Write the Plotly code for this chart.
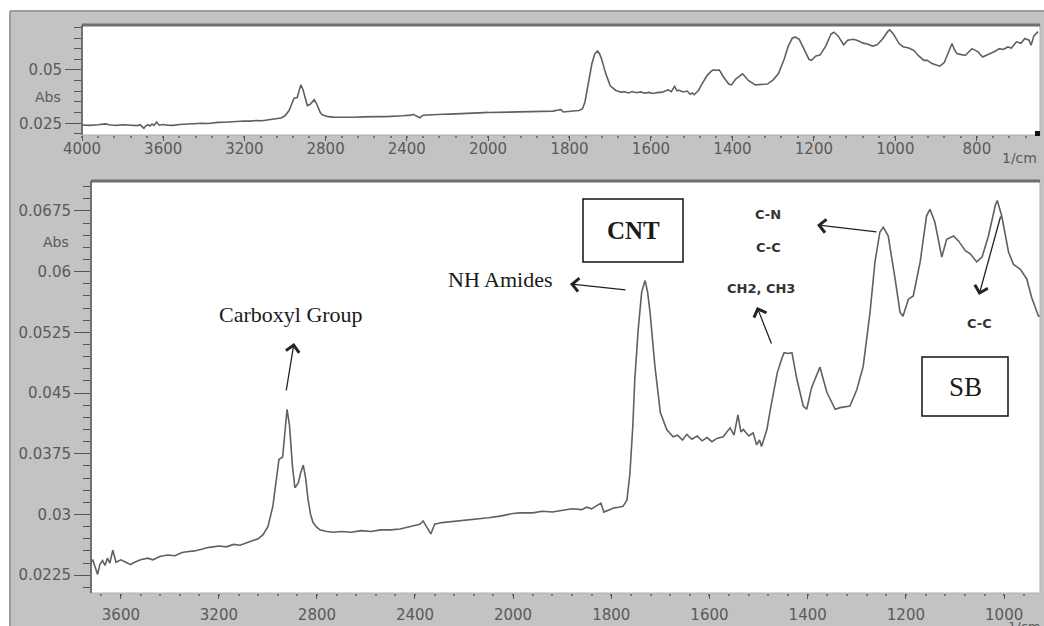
import plotly.graph_objects as go

# ---------------- DATA ----------------
wavenumber = [
    4000, 3960, 3920, 3886, 3860, 3829, 3800, 3770, 3747, 3727, 3715, 3705, 3695, 3686,
    3675, 3665, 3655, 3645, 3633, 3620, 3600, 3580, 3560, 3551, 3520, 3490, 3470, 3441,
    3410, 3380, 3350, 3331, 3300, 3270, 3250, 3224, 3200, 3170, 3140, 3114, 3090, 3061,
    3040, 3020, 3000, 2980, 2965, 2955, 2940, 2930, 2922, 2912, 2900, 2890, 2876, 2866,
    2856, 2846, 2837, 2826, 2816, 2800, 2788, 2760, 2735, 2700, 2660, 2620, 2580, 2540,
    2500, 2461, 2420, 2380, 2367, 2355, 2345, 2335, 2320, 2290, 2257, 2220, 2188, 2150,
    2100, 2053, 2020, 1986, 1960, 1940, 1920, 1900, 1880, 1860, 1850, 1840, 1830, 1821,
    1815, 1805, 1795, 1785, 1776, 1768, 1762, 1756, 1752, 1745, 1738, 1731, 1726, 1721,
    1711, 1700, 1687, 1674, 1665, 1655, 1646, 1636, 1625, 1615, 1605, 1595, 1585, 1572,
    1565, 1558, 1550, 1542, 1536, 1531, 1520, 1511, 1504, 1498, 1494, 1488, 1483, 1476,
    1470, 1462, 1453, 1448, 1440, 1432, 1422, 1409, 1402, 1392, 1375, 1361, 1344, 1334,
    1314, 1300, 1287, 1273, 1263, 1253, 1246, 1236, 1222, 1212, 1206, 1195, 1185, 1171,
    1158, 1151, 1141, 1127, 1117, 1103, 1093, 1079, 1069, 1056, 1045, 1032, 1018, 1014,
    1005, 991, 981, 967, 954, 944, 930, 922, 910, 891, 880, 870, 861, 855,
    849, 838, 828, 812, 797, 786, 776, 766, 755, 745, 735, 724, 715, 703,
    692, 682, 672, 667, 660, 650,
]
absorbance = [
    0.0242, 0.0240, 0.0243, 0.0247, 0.0242, 0.0240, 0.0243, 0.0241, 0.0243, 0.0239, 0.0244, 0.0236, 0.0226, 0.0238,
    0.0243, 0.0237, 0.0246, 0.0240, 0.0256, 0.0241, 0.0244, 0.0241, 0.0238, 0.0240, 0.0244, 0.0246, 0.0244, 0.0248,
    0.0250, 0.0249, 0.0253, 0.0254, 0.0255, 0.0257, 0.0259, 0.0260, 0.0261, 0.0260, 0.0263, 0.0262, 0.0265, 0.0268,
    0.0270, 0.0275, 0.0285, 0.0310, 0.0345, 0.0368, 0.0371, 0.0400, 0.0430, 0.0410, 0.0360, 0.0333, 0.0339, 0.0352,
    0.0361, 0.0345, 0.0320, 0.0300, 0.0290, 0.0284, 0.0281, 0.0279, 0.0278, 0.0279, 0.0278, 0.0280, 0.0279, 0.0281,
    0.0281, 0.0282, 0.0285, 0.0288, 0.0292, 0.0285, 0.0281, 0.0276, 0.0288, 0.0290, 0.0291, 0.0292, 0.0293, 0.0294,
    0.0296, 0.0298, 0.0300, 0.0302, 0.0302, 0.0304, 0.0303, 0.0305, 0.0307, 0.0306, 0.0309, 0.0307, 0.0311, 0.0314,
    0.0303, 0.0306, 0.0308, 0.0309, 0.0310, 0.0318, 0.0350, 0.0410, 0.0467, 0.0529, 0.0575, 0.0589, 0.0575, 0.0550,
    0.0483, 0.0426, 0.0405, 0.0396, 0.0398, 0.0392, 0.0399, 0.0393, 0.0397, 0.0391, 0.0395, 0.0390, 0.0394, 0.0396,
    0.0401, 0.0407, 0.0398, 0.0423, 0.0402, 0.0405, 0.0397, 0.0401, 0.0386, 0.0392, 0.0384, 0.0395, 0.0405, 0.0430,
    0.0451, 0.0475, 0.0492, 0.0500, 0.0499, 0.0500, 0.0467, 0.0434, 0.0430, 0.0457, 0.0482, 0.0451, 0.0430, 0.0432,
    0.0434, 0.0454, 0.0483, 0.0550, 0.0612, 0.0649, 0.0655, 0.0644, 0.0591, 0.0550, 0.0545, 0.0566, 0.0570, 0.0612,
    0.0669, 0.0677, 0.0661, 0.0618, 0.0640, 0.0644, 0.0638, 0.0626, 0.0622, 0.0612, 0.0618, 0.0644, 0.0682, 0.0688,
    0.0669, 0.0624, 0.0609, 0.0603, 0.0591, 0.0568, 0.0545, 0.0545, 0.0530, 0.0518, 0.0535, 0.0580, 0.0624, 0.0595,
    0.0577, 0.0572, 0.0569, 0.0600, 0.0585, 0.0561, 0.0570, 0.0577, 0.0588, 0.0600, 0.0596, 0.0608, 0.0603, 0.0632,
    0.0625, 0.0648, 0.0640, 0.0616, 0.0660, 0.0680,
]

top_y_ticks = [0.025, 0.05]
top_y_labels = ["0.025", "0.05"]
bot_y_ticks = [0.0225, 0.03, 0.0375, 0.045, 0.0525, 0.06, 0.0675]
bot_y_labels = ["0.0225", "0.03", "0.0375", "0.045", "0.0525", "0.06", "0.0675"]
top_x_hi_ticks = [4000, 3600, 3200, 2800, 2400]
top_x_lo_ticks = [2000, 1800, 1600, 1400, 1200, 1000, 800]
bot_x_hi_ticks = [3600, 3200, 2800, 2400]
bot_x_lo_ticks = [2000, 1800, 1600, 1400, 1200, 1000]

# ---------------- LAYOUT HELPERS ----------------
W, H = 1044, 626


def px(x):
    return x / W


def py(y):
    return 1 - y / H


GRAY_TXT = "#5a5a5a"
TICK_C = "#555555"
TICK_FONT = dict(family="DejaVu Sans", size=15, color=GRAY_TXT)

# pixel geometry of the two panels
T_L, T_S, T_R, T_T, T_B = 82, 488, 1040, 25, 135
B_L, B_S, B_R, B_T, B_B = 91, 513, 1040, 181, 593


def xaxis(domain, rng, ticks, minor_vals, anchor, standoff):
    return dict(
        domain=domain, range=rng, anchor=anchor,
        tickmode="array", tickvals=ticks, ticktext=[str(t) for t in ticks],
        ticks="outside", ticklen=5, tickwidth=1, tickcolor=TICK_C,
        tickfont=TICK_FONT, ticklabelstandoff=standoff,
        minor=dict(tickmode="array", tickvals=minor_vals, ticks="outside",
                   ticklen=2, tickwidth=2, tickcolor="#777777"),
        showgrid=False, zeroline=False, showline=False, fixedrange=True,
    )


def yaxis(domain, rng, ticks, labels, minor_vals, anchor):
    return dict(
        domain=domain, range=rng, anchor=anchor,
        tickmode="array", tickvals=ticks, ticktext=labels,
        ticks="outside", ticklen=16, tickwidth=1, tickcolor=TICK_C,
        tickfont=TICK_FONT,
        minor=dict(tickmode="array", tickvals=minor_vals, ticks="outside",
                   ticklen=7, tickwidth=1, tickcolor=TICK_C),
        showgrid=False, zeroline=False, showline=False, fixedrange=True,
    )


top_y_minor = [round(0.02 + 0.005 * i, 4) for i in range(11)]
bot_y_minor = [round(0.0210 + 0.0015 * i, 4) for i in range(34)]

fig = go.Figure()
line_style = dict(color="#606060", width=1.6)
for xa, ya in [("x", "y"), ("x2", "y2"), ("x3", "y3"), ("x4", "y4")]:
    fig.add_trace(go.Scatter(x=wavenumber, y=absorbance, mode="lines",
                             line=line_style, xaxis=xa, yaxis=ya,
                             showlegend=False, hoverinfo="skip"))

top_rng = [0.0195, 0.0711]
bot_rng = [0.0203, 0.0712]

layout = dict(
    width=W, height=H, autosize=False,
    margin=dict(l=0, r=0, t=0, b=0, pad=0, autoexpand=False),
    paper_bgcolor="#c3c3c3", plot_bgcolor="#ffffff",
    showlegend=False,
    xaxis=xaxis([px(T_L), px(T_S)], [4000, 2000], top_x_hi_ticks,
                list(range(4000, 1999, -80)), "y", -5),
    xaxis2=xaxis([px(T_S), px(T_R)], [2000, 645], top_x_lo_ticks,
                 list(range(2000, 640, -40)), "y2", -5),
    xaxis3=xaxis([px(B_L), px(B_S)], [3722, 2000], bot_x_hi_ticks,
                 list(range(3680, 1999, -80)), "y3", 3),
    xaxis4=xaxis([px(B_S), px(B_R)], [2000, 927], bot_x_lo_ticks,
                 list(range(2000, 926, -40)), "y4", 3),
    yaxis=yaxis([py(T_B), py(T_T)], top_rng, top_y_ticks, top_y_labels, top_y_minor, "x"),
    yaxis2=dict(domain=[py(T_B), py(T_T)], range=top_rng, anchor="x2", visible=False),
    yaxis3=yaxis([py(B_B), py(B_T)], bot_rng, bot_y_ticks, bot_y_labels, bot_y_minor, "x3"),
    yaxis4=dict(domain=[py(B_B), py(B_T)], range=bot_rng, anchor="x4", visible=False),
)
fig.update_layout(**layout)


def pline(x0, y0, x1, y1, color, width, layer="above"):
    return dict(type="line", xref="paper", yref="paper", x0=px(x0), y0=py(y0),
                x1=px(x1), y1=py(y1), line=dict(color=color, width=width), layer=layer)


def prect(x0, y0, x1, y1, line_color=None, width=1, fill=None, layer="above"):
    d = dict(type="rect", xref="paper", yref="paper", x0=px(x0), y0=py(y0),
             x1=px(x1), y1=py(y1), layer=layer,
             line=dict(color=line_color if line_color else "rgba(0,0,0,0)",
                       width=width if line_color else 0))
    if fill:
        d["fillcolor"] = fill
    return d


shapes = [
    # white margins outside the grey instrument panel
    prect(0, 0, 10, H, fill="#ffffff", layer="below"),
    prect(0, 0, W, 11, fill="#ffffff", layer="below"),
    pline(10, 11, 10, H, "#9c9c9c", 2, "below"),
    pline(10, 11, W, 11, "#9c9c9c", 2, "below"),
    # top panel frame
    prect(T_L, T_T, T_R, T_B, line_color="#b0b0b0", width=1),
    pline(T_L, T_T, T_R, T_T, "#6f6f6f", 3),
    pline(T_L, T_T, T_L, T_B, "#555555", 1.5),
    # bottom panel frame
    prect(B_L, B_T, B_R, B_B, line_color="#b0b0b0", width=1),
    pline(B_L, B_T, B_R, B_T, "#6f6f6f", 3),
    pline(B_L, B_T, B_L, B_B, "#555555", 1.5),
    # small marker square of the instrument
    prect(1035, 131, 1040, 136, fill="#111111"),
    # label boxes
    prect(583, 199, 683, 262, line_color="#111111", width=1.5),
    prect(922, 357, 1008, 416, line_color="#111111", width=1.5),
]
fig.update_layout(shapes=shapes)


def label(text, x, y, size, family, color="#1a1a1a", xanchor="center"):
    return dict(text=text, x=px(x), y=py(y), xref="paper", yref="paper",
                xanchor=xanchor, yanchor="middle", showarrow=False,
                font=dict(family=family, size=size, color=color))


def arrow(tail, head):
    return dict(text="", x=px(head[0]), y=py(head[1]), xref="paper", yref="paper",
                ax=tail[0] - head[0], ay=tail[1] - head[1], axref="pixel", ayref="pixel",
                showarrow=True, arrowhead=4, arrowsize=2.0, arrowwidth=1.3,
                arrowcolor="#222222", standoff=0, startstandoff=0)


SERIF = "Liberation Serif"
SANS_B = "DejaVu Sans"
annotations = [
    label("Abs", 63, 97, 14, "DejaVu Sans", GRAY_TXT, "right"),
    label("Abs", 71, 242, 14, "DejaVu Sans", GRAY_TXT, "right"),
    label("1/cm", 1019, 158, 14, "DejaVu Sans", GRAY_TXT),
    label("1/cm", 1024, 626, 13, "DejaVu Sans", GRAY_TXT),
    label("Carboxyl Group", 291, 314, 22, SERIF),
    label("NH Amides", 500, 279, 22, SERIF),
    label("<b>CNT</b>", 633, 231, 25, SERIF),
    label("SB", 965, 387, 27, SERIF),
    label("<b>C-N</b>", 768, 214, 13, SANS_B, "#333333"),
    label("<b>C-C</b>", 768, 247, 13, SANS_B, "#333333"),
    label("<b>CH2, CH3</b>", 761, 289, 13, SANS_B, "#333333"),
    label("<b>C-C</b>", 979, 323, 13, SANS_B, "#333333"),
    arrow((286, 392), (294, 343)),
    arrow((627, 290), (570, 284)),
    arrow((878, 232), (817, 225)),
    arrow((772, 345), (757, 307)),
    arrow((1001, 215), (979, 295)),
]
fig.update_layout(annotations=annotations)

fig.write_html(
    "out.html",
    config={"displayModeBar": False},
    post_script="document.body.style.margin='0';document.body.style.overflow='hidden';",
)
